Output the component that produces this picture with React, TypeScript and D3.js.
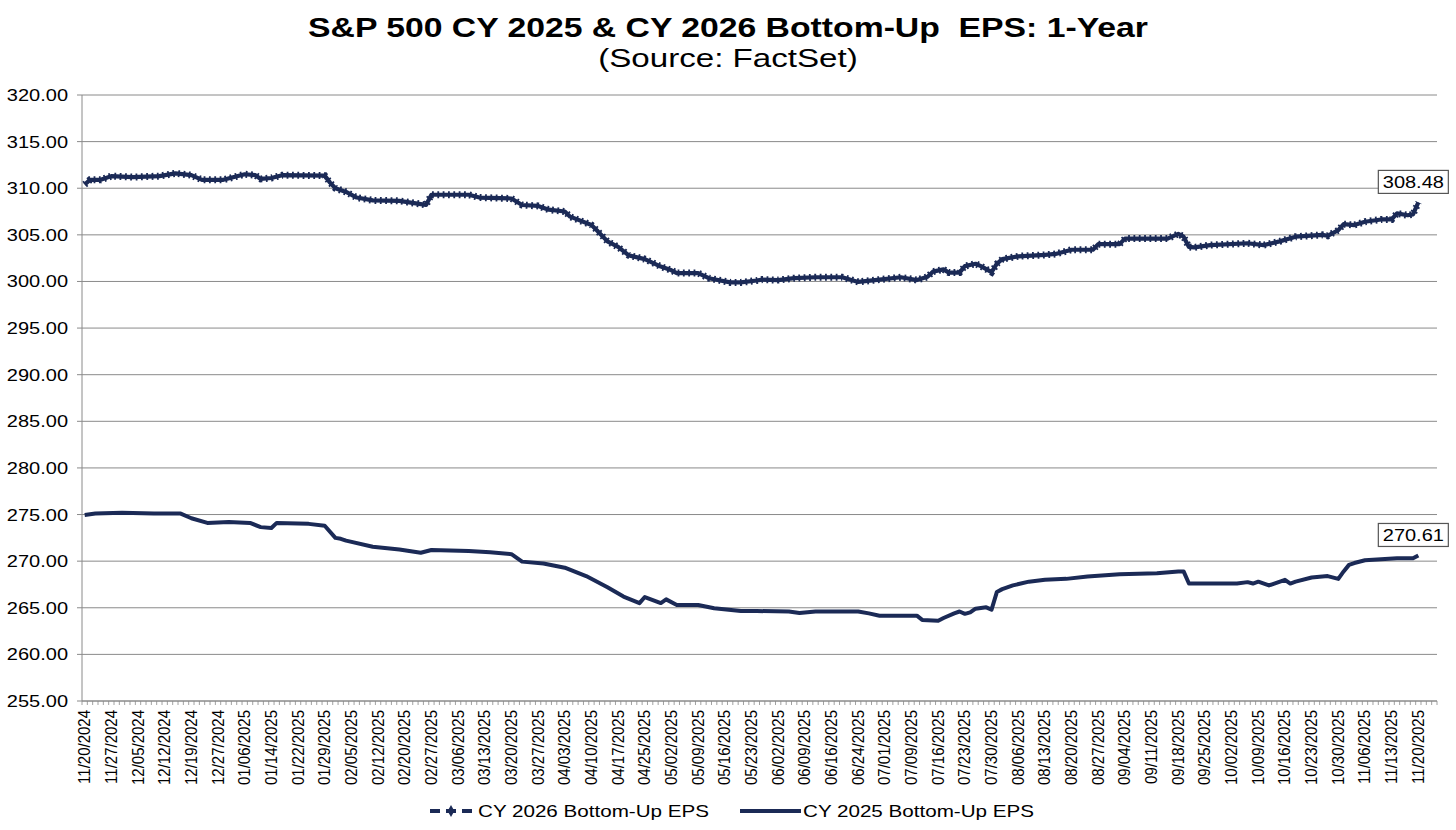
import { useEffect, useRef } from "react";
import * as d3 from "d3";

// weekly labels on the category axis (every 5th trading day)
const dateLabels = [
	"11/20/2024", "11/27/2024", "12/05/2024", "12/12/2024", "12/19/2024", "12/27/2024",
	"01/06/2025", "01/14/2025", "01/22/2025", "01/29/2025", "02/05/2025", "02/12/2025",
	"02/20/2025", "02/27/2025", "03/06/2025", "03/13/2025", "03/20/2025", "03/27/2025",
	"04/03/2025", "04/10/2025", "04/17/2025", "04/25/2025", "05/02/2025", "05/09/2025",
	"05/16/2025", "05/23/2025", "06/02/2025", "06/09/2025", "06/16/2025", "06/24/2025",
	"07/01/2025", "07/09/2025", "07/16/2025", "07/23/2025", "07/30/2025", "08/06/2025",
	"08/13/2025", "08/20/2025", "08/27/2025", "09/04/2025", "09/11/2025", "09/18/2025",
	"09/25/2025", "10/02/2025", "10/09/2025", "10/16/2025", "10/23/2025", "10/30/2025",
	"11/06/2025", "11/13/2025", "11/20/2025",
];

const categoryCount = 254;
const labelStep = 5;
const yTicks = [255, 260, 265, 270, 275, 280, 285, 290, 295, 300, 305, 310, 315, 320];

// trading-day index -> EPS
const cy2026Days = [
	0, 1, 3, 5, 9, 14, 17, 20, 22, 26, 30, 32, 33, 35, 37, 45, 46, 47, 49, 51, 54, 59, 63, 64, 65,
	67, 72, 74, 80, 82, 85, 87, 90, 91, 95, 96, 98, 99, 100, 102, 105, 108, 110, 111, 115, 117,
	121, 123, 126, 127, 130, 133, 137, 142, 145, 149, 153, 156, 158, 159, 161, 162, 164, 165,
	167, 168, 170, 171, 172, 175, 180, 182, 185, 189, 190, 194, 195, 203, 205, 206, 207, 208,
	211, 218, 221, 224, 227, 232, 233, 235, 236, 238, 240, 243, 245, 246, 248, 249, 250,
];
const cy2026Eps = [
	310.4, 310.9, 310.9, 311.3, 311.2, 311.3, 311.6, 311.4, 310.9, 310.9, 311.5, 311.4, 311.0,
	311.1, 311.4, 311.35, 310.6, 310.0, 309.6, 309.0, 308.7, 308.65, 308.3, 308.2, 309.3, 309.3,
	309.3, 309.0, 308.9, 308.2, 308.1, 307.7, 307.5, 306.95, 306.05, 305.5, 304.3, 304.0, 303.7,
	302.8, 302.4, 301.6, 301.2, 300.9, 300.9, 300.35, 299.9, 299.9, 300.1, 300.2, 300.15, 300.35,
	300.45, 300.45, 299.95, 300.2, 300.45, 300.15, 300.5, 301.05, 301.3, 300.95, 300.95, 301.65,
	301.9, 301.65, 301.0, 301.9, 302.4, 302.7, 302.85, 302.95, 303.4, 303.4, 304.0, 304.0, 304.6,
	304.6, 305.1, 304.8, 303.7, 303.65, 303.9, 304.1, 303.9, 304.3, 304.8, 305.0, 304.9, 305.5,
	306.15, 306.05, 306.4, 306.65, 306.65, 307.3, 307.1, 307.2, 308.48,
];

const cy2025Days = [
	0, 2, 7, 13, 18, 20, 23, 27, 31, 33, 35, 36, 42, 45, 47, 48, 49, 54, 59, 63, 65, 72, 76, 80,
	82, 86, 90, 94, 98, 101, 104, 105, 108, 109, 111, 115, 118, 123, 126, 132, 134, 137, 145,
	147, 149, 156, 157, 160, 161, 163, 164, 165, 166, 167, 169, 170, 171, 172, 174, 177, 180,
	184, 188, 194, 201, 205, 206, 207, 216, 218, 219, 220, 222, 223, 225, 226, 227, 230, 233,
	235, 236, 237, 238, 240, 246, 249, 250,
];
const cy2025Eps = [
	274.95, 275.1, 275.2, 275.1, 275.1, 274.6, 274.1, 274.2, 274.1, 273.65, 273.55, 274.1, 274.0,
	273.8, 272.5, 272.4, 272.2, 271.55, 271.25, 270.9, 271.2, 271.1, 270.95, 270.75, 269.95,
	269.75, 269.3, 268.4, 267.2, 266.2, 265.5, 266.15, 265.5, 265.9, 265.3, 265.3, 264.95,
	264.65, 264.65, 264.6, 264.45, 264.6, 264.6, 264.4, 264.15, 264.15, 263.7, 263.6, 263.9,
	264.4, 264.6, 264.35, 264.5, 264.9, 265.05, 264.8, 266.7, 267.0, 267.4, 267.8, 268.0, 268.1,
	268.35, 268.6, 268.7, 268.9, 268.9, 267.6, 267.6, 267.75, 267.6, 267.8, 267.4, 267.6, 268.0,
	267.6, 267.8, 268.25, 268.4, 268.1, 268.9, 269.6, 269.8, 270.1, 270.3, 270.3, 270.61,
];

const WIDTH = 1456;
const HEIGHT = 830;
const NAVY = "#1b2a56";
const GRID = "#8a8a8a";
const FONT = "'Liberation Sans', Arial, sans-serif";
// the source image is stretched horizontally
const STRETCH = 1.25;

export default function App() {
	const svgRef = useRef<SVGSVGElement>(null);

	useEffect(() => {
		if (!svgRef.current) {
			return;
		}

		const svg = d3.select(svgRef.current);
		svg.selectAll("*").remove();

		const plot = { left: 82, right: 1437, top: 95, bottom: 701 };

		const xScale = d3
			.scaleBand<number>()
			.domain(d3.range(categoryCount))
			.range([plot.left, plot.right]);
		const bw = xScale.bandwidth();
		const cx = (i: number) => (xScale(i) ?? 0) + bw / 2;

		const yScale = d3.scaleLinear().domain([255, 320]).range([plot.bottom, plot.top]);

		const stretchedText = (
			parent: d3.Selection<any, any, any, any>,
			x: number,
			y: number,
			text: string,
			size: number,
			anchor = "start",
			weight = 400
		) =>
			parent
				.append("text")
				.attr("transform", `translate(${x},${y}) scale(${STRETCH},1)`)
				.attr("text-anchor", anchor)
				.attr("font-family", FONT)
				.attr("font-size", size)
				.attr("font-weight", weight)
				.attr("fill", "#000")
				.text(text);

		svg.append("rect").attr("width", WIDTH).attr("height", HEIGHT).attr("fill", "#fff");

		// title
		stretchedText(svg, WIDTH / 2, 37, "S&P 500 CY 2025 & CY 2026 Bottom-Up  EPS: 1-Year", 27, "middle", 700)
			.style("white-space", "pre");
		stretchedText(svg, WIDTH / 2, 67, "(Source: FactSet)", 26.5, "middle");

		// gridlines + y axis
		svg
			.append("g")
			.selectAll("line")
			.data(yTicks)
			.join("line")
			.attr("x1", plot.left - 5)
			.attr("x2", plot.right)
			.attr("y1", (d) => yScale(d))
			.attr("y2", (d) => yScale(d))
			.attr("stroke", GRID)
			.attr("stroke-width", 1);

		const yLabels = svg.append("g");
		yTicks.forEach((t) => {
			stretchedText(yLabels, plot.left - 14, yScale(t) + 6, t.toFixed(2), 16, "end");
		});

		svg
			.append("line")
			.attr("x1", plot.left)
			.attr("x2", plot.left)
			.attr("y1", plot.top)
			.attr("y2", plot.bottom)
			.attr("stroke", GRID);

		// x axis
		svg
			.append("line")
			.attr("x1", plot.left)
			.attr("x2", plot.right)
			.attr("y1", plot.bottom)
			.attr("y2", plot.bottom)
			.attr("stroke", GRID);

		svg
			.append("g")
			.selectAll("line")
			.data(d3.range(categoryCount + 1))
			.join("line")
			.attr("x1", (i) => plot.left + i * bw)
			.attr("x2", (i) => plot.left + i * bw)
			.attr("y1", plot.bottom)
			.attr("y2", plot.bottom + 4)
			.attr("stroke", GRID)
			.attr("stroke-width", 0.8);

		svg
			.append("g")
			.selectAll("text")
			.data(dateLabels)
			.join("text")
			.attr(
				"transform",
				(_, k) => `translate(${cx(k * labelStep) + 5.5},${plot.bottom + 9}) rotate(-90) scale(1,1.12)`
			)
			.attr("text-anchor", "end")
			.attr("font-family", FONT)
			.attr("font-size", 15)
			.attr("fill", "#000")
			.text((d) => d);

		// series
		const line = d3
			.line<[number, number]>()
			.x((d) => cx(d[0]))
			.y((d) => yScale(d[1]));

		const pts2025 = cy2025Days.map((d, i) => [d, cy2025Eps[i]] as [number, number]);
		const pts2026 = cy2026Days.map((d, i) => [d, cy2026Eps[i]] as [number, number]);

		svg
			.append("path")
			.attr("d", line(pts2025))
			.attr("fill", "none")
			.attr("stroke", NAVY)
			.attr("stroke-width", 4)
			.attr("stroke-linejoin", "round");

		svg
			.append("path")
			.attr("d", line(pts2026))
			.attr("fill", "none")
			.attr("stroke", NAVY)
			.attr("stroke-width", 4.2)
			.attr("stroke-linejoin", "round");

		// daily markers texture on the CY 2026 line
		svg
			.append("path")
			.attr("d", line(pts2026))
			.attr("fill", "none")
			.attr("stroke", NAVY)
			.attr("stroke-width", 7)
			.attr("stroke-dasharray", `1.8 ${bw - 1.8}`);

		// end value callouts
		[pts2026, pts2025].forEach((pts) => {
			const last = pts[pts.length - 1];
			const px = cx(last[0]);
			const py = yScale(last[1]);
			svg
				.append("rect")
				.attr("x", px - 40)
				.attr("y", py - 32)
				.attr("width", 70)
				.attr("height", 23)
				.attr("fill", "#fff")
				.attr("stroke", "#555")
				.attr("stroke-width", 1.2);
			stretchedText(svg, px - 5, py - 14, last[1].toFixed(2), 16, "middle");
		});

		// legend
		const legendY = 811;
		svg
			.append("line")
			.attr("x1", 430)
			.attr("x2", 472)
			.attr("y1", legendY)
			.attr("y2", legendY)
			.attr("stroke", NAVY)
			.attr("stroke-width", 4)
			.attr("stroke-dasharray", "10 6");
		svg
			.append("path")
			.attr("d", d3.symbol(d3.symbolDiamond, 40)())
			.attr("transform", `translate(451,${legendY})`)
			.attr("fill", NAVY);
		stretchedText(svg, 478, legendY + 6, "CY 2026 Bottom-Up EPS", 16.5);

		svg
			.append("line")
			.attr("x1", 740)
			.attr("x2", 801)
			.attr("y1", legendY)
			.attr("y2", legendY)
			.attr("stroke", NAVY)
			.attr("stroke-width", 4);
		stretchedText(svg, 803, legendY + 6, "CY 2025 Bottom-Up EPS", 16.5);
	}, []);

	return (
		<svg
			ref={svgRef}
			width={WIDTH}
			height={HEIGHT}
			style={{ position: "absolute", left: 0, top: 0, display: "block" }}
		/>
	);
}
